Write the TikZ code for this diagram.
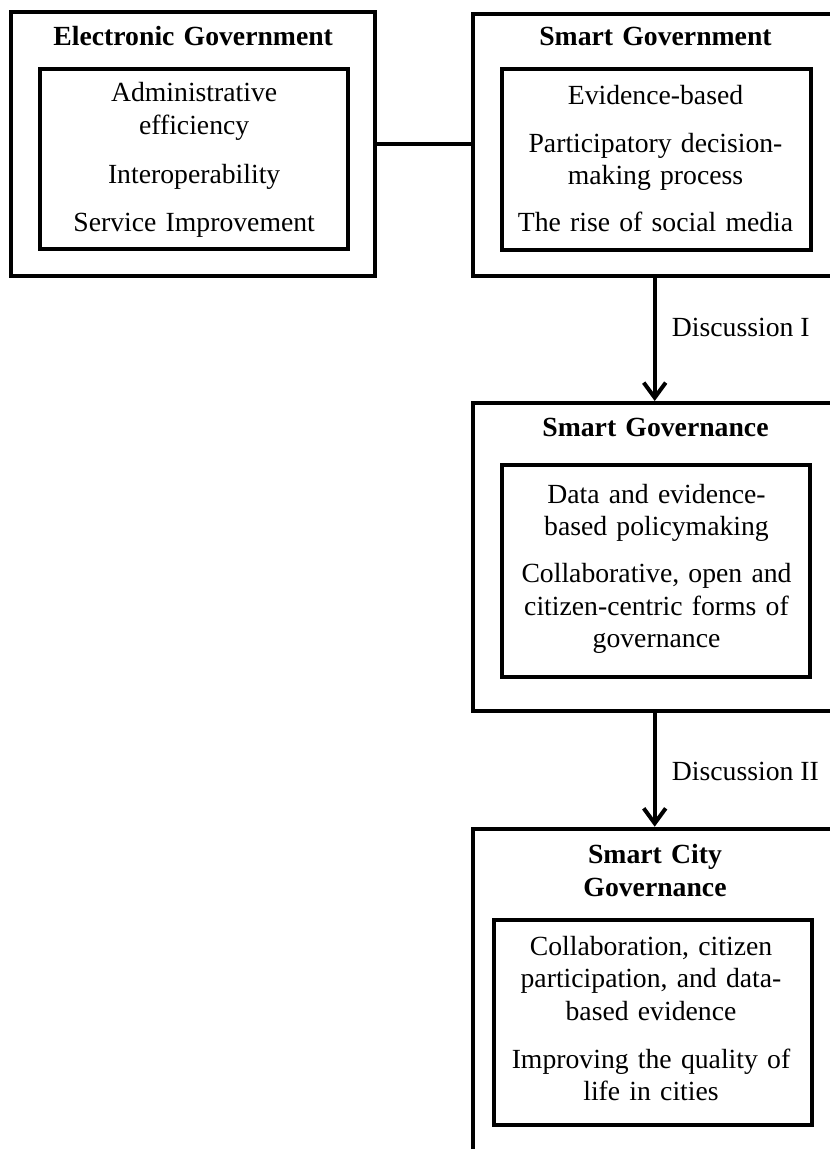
\documentclass[tikz,border=0pt]{standalone}
\usepackage{fontspec}
\setmainfont{Liberation Serif}
\usetikzlibrary{arrows.meta}
\tikzset{
  outerbox/.style={draw, rectangle, line width=4pt, inner sep=0pt},
  innerbox/.style={draw, rectangle, line width=3.7pt, inner sep=0pt},
  bodytext/.style={font=\fontsize{27.7}{32.6}\selectfont, text width=330pt, align=center, inner sep=0pt, anchor=base},
  titletext/.style={font=\bfseries\fontsize{27.7}{33.4}\selectfont, text width=330pt, align=center, inner sep=0pt, anchor=base},
  disclabel/.style={font=\fontsize{27.7}{32.6}\selectfont, inner sep=0pt, anchor=base west},
  link/.style={line width=4pt},
  arr/.style={line width=4pt, -{Straight Barb[length=15pt,width=22pt]}}
}
\begin{document}
\begin{tikzpicture}[x=1pt,y=-1pt]
\useasboundingbox (0,0) rectangle (830,1149);
\clip (0,0) rectangle (830,1149);
% outer boxes
\node[outerbox, minimum width=363.7pt, minimum height=263.5pt] (eg) at (193.15,143.75) {};
\node[outerbox, minimum width=364pt, minimum height=261.8pt] (sg) at (654.7,144.6) {};
\node[outerbox, minimum width=364pt, minimum height=307.7pt] (sgov) at (654.7,556.85) {};
\node[outerbox, minimum width=364pt, minimum height=371.3pt] (scg) at (654.7,1014.35) {};
% inner boxes
\node[innerbox, minimum width=307.7pt, minimum height=180pt] (egin) at (194.15,158.7) {};
\node[innerbox, minimum width=309.3pt, minimum height=181.6pt] (sgin) at (656.65,159.5) {};
\node[innerbox, minimum width=308.3pt, minimum height=211.7pt] (sgovin) at (656.15,571.15) {};
\node[innerbox, minimum width=318.3pt, minimum height=205.6pt] (scgin) at (652.85,1022.5) {};
% titles
\node[titletext] (egt) at (193.2,45) {Electronic Government};
\node[titletext] (sgt) at (655.5,45) {Smart Government};
\node[titletext] (sgovt) at (655.5,436.7) {Smart Governance};
\node[titletext] (scgt) at (655,863.3) {Smart City\\Governance};
% contents
\node[bodytext] (egx) at (194.15,101.7) {Administrative\\efficiency\\[16.2pt]Interoperability\\[15.6pt]Service Improvement};
\node[bodytext] (sgx) at (655.5,104) {Evidence-based\\[15.4pt]Participatory decision-\\making process\\[14.2pt]The rise of social media};
\node[bodytext] (sgovx) at (656.5,503.3) {Data and evidence-\\based policymaking\\[14pt]Collaborative, open and\\citizen-centric forms of\\governance};
\node[bodytext] (scgx) at (651,955) {Collaboration, citizen\\participation, and data-\\based evidence\\[15.5pt]Improving the quality of\\life in cities};
% connectors
\draw[link] (eg.east) -- (eg.east -| sg.west);
\draw[arr] (sg.south) -- (sgov.north);
\draw[arr] (sgov.south) -- (scg.north);
% labels
\node[disclabel] (d1) at (671.7,336) {Discussion I};
\node[disclabel] (d2) at (671.7,780) {Discussion II};
\end{tikzpicture}
\end{document}
